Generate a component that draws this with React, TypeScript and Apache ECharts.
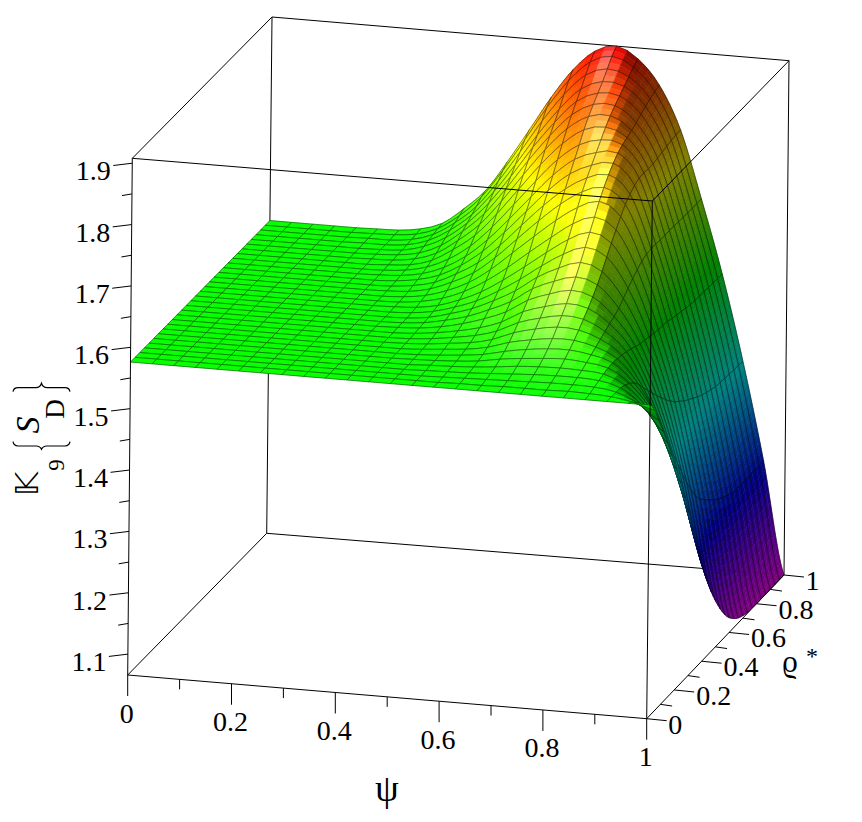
import React, { useEffect, useRef } from "react";
import * as echarts from "echarts";

const zMin = 1.066, zMax = 1.908;
const zTicks = [1.1,1.15,1.2,1.25,1.3,1.35,1.4,1.45,1.5,1.55,1.6,1.65,1.7,1.75,1.8,1.85,1.9];
const psiTicks = [0,0.1,0.2,0.3,0.4,0.5,0.6,0.7,0.8,0.9,1];
const rhoTicks = [0,0.1,0.2,0.3,0.4,0.5,0.6,0.7,0.8,0.9,1];
// Surface heights, in thousandths. One row per psi = i/24, one column per rho = j/30.
const surfaceMilli = [
[1576,1576,1576,1576,1576,1576,1576,1576,1576,1576,1576,1576,1576,1576,1576,1576,1576,1576,1576,1576,1576,1576,1576,1576,1576,1576,1576,1576,1576,1576,1576],
[1576,1576,1576,1576,1576,1576,1576,1576,1576,1576,1576,1576,1576,1576,1576,1576,1576,1576,1576,1576,1576,1576,1576,1576,1576,1576,1576,1576,1576,1576,1576],
[1576,1576,1576,1576,1576,1576,1576,1576,1576,1576,1576,1576,1576,1576,1576,1576,1576,1576,1576,1576,1576,1576,1576,1576,1576,1576,1576,1576,1576,1576,1576],
[1576,1576,1576,1576,1576,1576,1576,1576,1576,1576,1576,1576,1576,1576,1576,1576,1576,1576,1576,1576,1576,1576,1576,1576,1576,1576,1576,1576,1576,1576,1576],
[1576,1576,1576,1576,1576,1576,1576,1576,1576,1576,1576,1576,1576,1576,1576,1576,1576,1576,1576,1576,1576,1576,1576,1576,1576,1576,1576,1576,1576,1576,1576],
[1576,1576,1576,1576,1576,1576,1576,1576,1576,1576,1576,1576,1576,1576,1576,1576,1576,1576,1576,1576,1576,1576,1576,1576,1576,1576,1576,1577,1577,1577,1577],
[1576,1576,1576,1576,1576,1576,1576,1576,1576,1576,1576,1576,1576,1576,1576,1576,1576,1576,1576,1576,1576,1576,1576,1576,1577,1577,1577,1577,1577,1578,1578],
[1576,1576,1576,1576,1576,1576,1576,1576,1576,1576,1576,1576,1576,1576,1576,1576,1576,1576,1576,1576,1576,1577,1577,1578,1578,1579,1579,1580,1581,1582,1583],
[1576,1576,1576,1576,1576,1576,1576,1576,1576,1576,1576,1576,1576,1576,1576,1576,1576,1576,1577,1577,1578,1579,1580,1581,1583,1585,1588,1590,1592,1594,1595],
[1576,1576,1576,1576,1576,1576,1576,1576,1576,1576,1576,1576,1576,1576,1576,1577,1577,1578,1579,1581,1583,1585,1588,1591,1595,1600,1605,1610,1614,1618,1622],
[1576,1576,1576,1576,1576,1576,1576,1576,1576,1576,1576,1577,1577,1577,1578,1579,1581,1583,1586,1589,1593,1598,1604,1612,1619,1626,1632,1638,1644,1651,1655],
[1576,1576,1576,1576,1576,1576,1576,1576,1577,1577,1578,1579,1580,1581,1583,1585,1589,1594,1600,1606,1612,1619,1628,1638,1648,1658,1668,1678,1688,1698,1705],
[1576,1576,1576,1576,1576,1577,1577,1578,1579,1580,1582,1584,1587,1590,1593,1597,1603,1610,1618,1627,1638,1649,1662,1676,1689,1702,1714,1726,1739,1751,1760],
[1576,1576,1576,1577,1578,1578,1579,1581,1583,1585,1588,1592,1596,1601,1606,1613,1623,1634,1646,1658,1672,1686,1702,1719,1735,1750,1764,1777,1792,1806,1816],
[1576,1576,1577,1578,1579,1580,1582,1584,1587,1591,1596,1603,1610,1617,1625,1635,1648,1664,1679,1694,1709,1725,1743,1762,1779,1794,1808,1822,1838,1853,1864],
[1576,1577,1578,1579,1581,1583,1586,1590,1595,1601,1608,1617,1626,1636,1647,1660,1676,1694,1712,1729,1746,1763,1781,1799,1816,1831,1845,1858,1873,1887,1897],
[1576,1577,1579,1581,1584,1589,1594,1601,1609,1618,1628,1639,1650,1661,1672,1686,1703,1723,1742,1759,1776,1792,1808,1825,1839,1851,1862,1873,1886,1899,1908],
[1576,1578,1580,1583,1588,1593,1600,1608,1618,1628,1639,1652,1665,1679,1694,1710,1728,1747,1765,1780,1793,1806,1819,1832,1843,1852,1860,1868,1876,1884,1890],
[1576,1578,1581,1585,1590,1596,1604,1613,1624,1635,1647,1661,1675,1691,1708,1725,1742,1760,1775,1788,1799,1808,1814,1818,1822,1827,1833,1838,1843,1847,1850],
[1576,1578,1582,1586,1591,1598,1605,1613,1622,1632,1642,1653,1665,1679,1695,1710,1724,1738,1750,1759,1766,1770,1771,1770,1770,1772,1774,1776,1778,1779,1780],
[1576,1579,1582,1586,1590,1595,1600,1605,1610,1615,1620,1624,1630,1638,1647,1655,1662,1668,1672,1673,1673,1672,1672,1672,1672,1671,1671,1670,1670,1670,1670],
[1576,1578,1581,1584,1587,1589,1590,1589,1587,1585,1582,1578,1575,1573,1571,1569,1567,1566,1565,1562,1560,1558,1556,1554,1553,1552,1552,1551,1551,1550,1550],
[1576,1576,1576,1575,1572,1567,1560,1550,1537,1525,1513,1501,1490,1479,1469,1460,1453,1446,1440,1435,1429,1425,1421,1418,1415,1414,1413,1412,1411,1411,1410],
[1576,1570,1561,1550,1539,1526,1510,1489,1464,1440,1416,1393,1370,1348,1327,1310,1297,1288,1280,1272,1266,1260,1256,1252,1250,1250,1250,1250,1250,1250,1250],
[1576,1560,1536,1510,1483,1455,1425,1395,1363,1330,1293,1255,1220,1190,1163,1140,1120,1103,1090,1081,1074,1070,1067,1067,1066,1066,1066,1066,1066,1066,1066],
];
const NP=surfaceMilli.length-1,NR=surfaceMilli[0].length-1;
const Z=surfaceMilli.map(r=>r.map(v=>v/1000));

// the renderer's smoothing of the mesh between table nodes, the same role as a line series' smooth option
function cub(a:number,b:number,c:number,d:number,f:number){return 0.5*((2*b)+(-a+c)*f+(2*a-5*b+4*c-d)*f*f+(-a+3*b-3*c+d)*f*f*f);}
function zAt(u:number,v:number){
 const i=Math.min(NP-1,Math.floor(u)),j=Math.min(NR-1,Math.floor(v));const fu=u-i,fv=v-j;
 const row=(a:number)=>{const r=Z[Math.max(0,Math.min(NP,a))];return cub(r[Math.max(0,j-1)],r[j],r[j+1],r[Math.min(NR,j+2)],fv);};
 return cub(row(i-1),row(i),row(i+1),row(i+2),fu);
}

const C = {A:[127.7,675],B:[646.7,718.7],C:[784,575],D:[266.7,533.3],At:[132.3,158.3],Bt:[652.3,201],Ct:[789,60.7],Dt:[272,17]};
function proj(p:number,r:number,z:number){const t=(z-zMin)/(zMax-zMin);
 return [0,1].map(k=>{const lo=(1-r)*((1-p)*C.A[k]+p*C.B[k])+r*((1-p)*C.D[k]+p*C.C[k]);
  const hi=(1-r)*((1-p)*C.At[k]+p*C.Bt[k])+r*((1-p)*C.Dt[k]+p*C.Ct[k]);return lo+(hi-lo)*t;});}
const stops=[[255,0,255],[0,0,255],[0,255,255],[0,255,0],[255,255,0],[255,0,0]];
function ramp(t:number){const u=Math.max(0,Math.min(0.99999,t))*5;const k=Math.floor(u),f=u-k;return [0,1,2].map(c=>stops[k][c]*(1-f)+stops[k+1][c]*f);}
const unit=(v:number[])=>{const l=Math.hypot(...v);return v.map(x=>x/l);};
const Lv=unit([-0.8,-0.2,0.56]);
const Hv=unit([-0.1,-0.5,0.87]);
function colorAt(u:number,v:number){
 const zs=1/(zMax-zMin),e=0.35;
 const u0=Math.max(0,u-e),u1=Math.min(NP,u+e),v0=Math.max(0,v-e),v1=Math.min(NR,v+e);
 const zp=(zAt(u1,v)-zAt(u0,v))*zs*NP/(u1-u0), zr=(zAt(u,v1)-zAt(u,v0))*zs*NR/(v1-v0);
 const nl=Math.hypot(zp,zr,1);const n=[-zp/nl,-zr/nl,1/nl];
 const dl=n[0]*Lv[0]+n[1]*Lv[1]+n[2]*Lv[2];const dh=Math.max(0,n[0]*Hv[0]+n[1]*Hv[1]+n[2]*Hv[2]);
 const b=Math.min(1,0.5+1.1*Math.max(0,dl));const s=Math.pow(dh,25)*0.4;
 const col=ramp((zAt(u,v)-zMin)*zs).map(c=>Math.round(Math.min(255,c*b+255*s)));
 return `rgb(${col[0]},${col[1]},${col[2]})`;
}
const cells:number[][]=[];for(let i=0;i<NP;i++)for(let j=NR-1;j>=0;j--)cells.push([i,j]);

function surfaceItem(params:any,api:any){
 const i=api.value(0),j=api.value(1);
 const P=(u:number,v:number)=>api.coord(proj(u/NP,v/NR,zAt(u,v)));
 const dp=Math.max(Math.abs(Z[i+1][j]-Z[i][j]),Math.abs(Z[i+1][j+1]-Z[i][j+1]));
 const dr=Math.max(Math.abs(Z[i][j+1]-Z[i][j]),Math.abs(Z[i+1][j+1]-Z[i+1][j]));
 const nu=Math.min(12,Math.max(dp+dr<0.0005?1:2,Math.ceil(dp/0.012)));
 const nv=Math.min(5,Math.max(dp+dr<0.0005?1:2,Math.ceil(dr/0.012)));
 const children:any[]=[];
 for(let a=0;a<nu;a++)for(let b=nv-1;b>=0;b--){
  const u0=i+a/nu,u1=i+(a+1)/nu,v0=j+b/nv,v1=j+(b+1)/nv;
  const fill=colorAt((u0+u1)/2,(v0+v1)/2);
  children.push({type:'polygon',shape:{points:[P(u0,v0),P(u1,v0),P(u1,v1),P(u0,v1)]},style:{fill,stroke:fill,lineWidth:0.6}});
 }
 const edge:number[][]=[];
 for(let a=0;a<=nu;a++)edge.push(P(i+a/nu,j));
 for(let b=1;b<=nv;b++)edge.push(P(i+1,j+b/nv));
 for(let a=nu-1;a>=0;a--)edge.push(P(i+a/nu,j+1));
 for(let b=nv-1;b>=0;b--)edge.push(P(i,j+b/nv));
 children.push({type:'polygon',shape:{points:edge},style:{fill:'none',stroke:'rgba(0,0,0,0.42)',lineWidth:1}});
 return {type:'group',children};
}
const backEdges:[number[],number[]][]=[[C.D,C.Dt],[C.D,C.C],[C.A,C.D],[C.C,C.Ct],[C.Dt,C.Ct],[C.At,C.Dt]];
const frontEdges:[number[],number[]][]=[[C.A,C.At],[C.A,C.B],[C.B,C.Bt],[C.At,C.Bt],[C.Bt,C.Ct],[C.B,C.C]];
function lineEl(api:any,a:number[],b:number[],w=1){const p=api.coord(a),q=api.coord(b);return {type:'line',shape:{x1:p[0],y1:p[1],x2:q[0],y2:q[1]},style:{stroke:'#000',lineWidth:w}};}
const FONT='"Liberation Serif"';
function lab(x:number,y:number,text:string,size=28){return {type:'text',x,y,style:{text,fill:'#000',font:`${size}px ${FONT}`,textAlign:'center',textVerticalAlign:'middle'}};}
function tickItem(params:any,api:any){
 const ax=api.value(0),idx=api.value(1);const els:any[]=[];
 if(ax===0){const v=zTicks[idx];const major=idx%2===0;const q=api.coord(proj(0,0,v));
  els.push(major?{type:'line',shape:{x1:q[0],y1:q[1],x2:q[0]-19,y2:q[1]+2.3},style:{stroke:'#000',lineWidth:1}}:{type:'line',shape:{x1:q[0],y1:q[1],x2:q[0]-10,y2:q[1]+1.7},style:{stroke:'#000',lineWidth:1}});
  if(major)els.push(lab(q[0]-39,q[1]+7.5,v.toFixed(1)));}
 if(ax===1){const v=psiTicks[idx];const major=idx%2===0;const q=api.coord(proj(v,0,zMin));
  els.push({type:'line',shape:{x1:q[0],y1:q[1],x2:q[0],y2:q[1]+(major?21:10)},style:{stroke:'#000',lineWidth:1}});
  if(major)els.push(lab(q[0]-1,q[1]+38,String(v)));}
 if(ax===2){const v=rhoTicks[idx];const major=idx%2===0;const q=api.coord(proj(1,v,zMin));
  els.push({type:'line',shape:{x1:q[0],y1:q[1],x2:q[0]+(major?20:11.7),y2:q[1]+(major?2:1.7)},style:{stroke:'#000',lineWidth:1}});
  if(major)els.push(lab(q[0]+((v===0||v===1)?28.5:39.5),q[1]+5.5,String(v)));}
 return {type:'group',children:els};
}
const tickData:number[][]=[...zTicks.map((_,i)=>[0,i]),...psiTicks.map((_,i)=>[1,i]),...rhoTicks.map((_,i)=>[2,i])];

echarts.graphic.registerShape("braceLow",echarts.graphic.extendPath("M13,441.7 C13.5,444.5 15,446 18,446 L36,446 C39,446 40.5,447 41.5,449.3 C42.5,447 44,446 47,446 L65,446 C68,446 69.5,444.5 70,441.7",{}));
echarts.graphic.registerShape("braceHigh",echarts.graphic.extendPath("M13,391.7 C13.5,389 15,387.7 18,387.7 L36,387.7 C39,387.7 40.5,386.5 41.5,383.3 C42.5,386.5 44,387.7 47,387.7 L65,387.7 C68,387.7 69.5,389 70,391.7",{}));

export default function App(){
 const ref=useRef<HTMLDivElement>(null);
 useEffect(()=>{
  document.body.style.margin='0';
  const chart=echarts.init(ref.current!,undefined,{renderer:'svg'});
  const rot=Math.PI/2;
  chart.setOption({animation:false,backgroundColor:'#fff',
   grid:{left:0,right:0,top:0,bottom:0},
   xAxis:{type:'value',min:0,max:862,show:false},
   yAxis:{type:'value',min:0,max:822,inverse:true,show:false},
   series:[
    {type:'custom',silent:true,clip:false,z:1,data:backEdges.map((_,i)=>[i]),renderItem:(p:any,api:any)=>{const e=backEdges[api.value(0)];return lineEl(api,e[0],e[1]);}},
    {type:'custom',silent:true,clip:false,z:2,progressive:0,data:cells,renderItem:surfaceItem},
    {type:'custom',silent:true,clip:false,z:3,data:frontEdges.map((_,i)=>[i]),renderItem:(p:any,api:any)=>{const e=frontEdges[api.value(0)];return lineEl(api,e[0],e[1]);}},
    {type:'custom',silent:true,clip:false,z:3,data:tickData,renderItem:tickItem},
   ],
   graphic:[
    {type:'text',x:387,y:788,style:{text:'ψ',fill:'#000',font:`38px ${FONT}`,textAlign:'center',textVerticalAlign:'middle'}},
    {type:'text',x:790,y:661,style:{text:'ϱ',fill:'#000',font:`31px ${FONT}`,textAlign:'center',textVerticalAlign:'middle'}},
    {type:'text',x:812,y:656,style:{text:'*',fill:'#000',font:`24px ${FONT}`,textAlign:'center',textVerticalAlign:'middle'}},
    {type:'text',x:27,y:484,rotation:rot,style:{text:'𝕂',fill:'#000',font:`32px "DejaVu Sans"`,textAlign:'center',textVerticalAlign:'middle'}},
    {type:'text',x:56,y:465,rotation:rot,style:{text:'9',fill:'#000',font:`23px ${FONT}`,textAlign:'center',textVerticalAlign:'middle'}},
    {type:'text',x:27,y:425,rotation:rot,style:{text:'S',fill:'#000',font:`italic 34px ${FONT}`,textAlign:'center',textVerticalAlign:'middle'}},
    {type:'text',x:55,y:409,rotation:rot,style:{text:'D',fill:'#000',font:`27px ${FONT}`,textAlign:'center',textVerticalAlign:'middle'}},
    {type:'braceLow',style:{fill:'none',stroke:'#000',lineWidth:1.2}},
    {type:'braceHigh',style:{fill:'none',stroke:'#000',lineWidth:1.2}},
   ],
  });
  return ()=>chart.dispose();
 },[]);
 return <div ref={ref} style={{width:862,height:822}}/>;
}
